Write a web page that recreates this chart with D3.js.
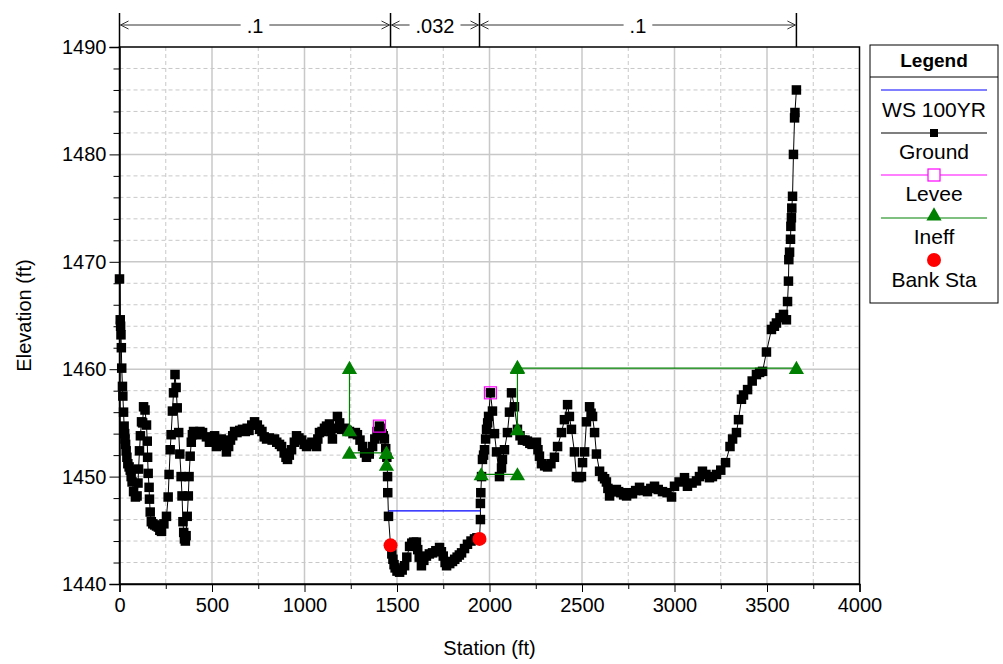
<!DOCTYPE html>
<html>
<head>
<meta charset="utf-8">
<script src="https://cdn.jsdelivr.net/npm/d3@7"></script>
<style>
  html, body { margin: 0; padding: 0; background: #fff; }
  svg { display: block; font-family: "Liberation Sans", Arial, sans-serif; }
</style>
</head>
<body>
<svg id="chart" width="1003" height="664"></svg>
<script>
// Cross-section ground profile: [station (ft), elevation (ft)]
const groundPoints = [
  [0,1468.4],[4,1464.6],[6,1464.0],[8,1463.2],[10,1462.0],[12,1460.1],[16,1458.4],[18,1457.5],
  [22,1456.0],[25,1454.7],[28,1454.0],[30,1453.5],[33,1453.0],[36,1452.4],[40,1451.8],[45,1451.2],
  [52,1450.9],[58,1450.6],[63,1450.0],[68,1449.5],[76,1448.6],[86,1448.1],
  [95,1448.2],[100,1449.4],[103,1450.7],[108,1452.4],[113,1453.8],[119,1455.1],[125,1455.0],[130,1456.5],[138,1456.2],
  [146,1454.8],[150,1453.3],[152,1451.8],[155,1450.3],[160,1449.0],[162,1447.9],[166,1446.7],[172,1445.8],
  [180,1445.6],[190,1445.5],[200,1445.4],[210,1445.3],[218,1445.0],[227,1444.9],[240,1445.6],[254,1446.3],[263,1448.1],[268,1450.2],[274,1452.5],
  [279,1453.9],[286,1456.1],[292,1457.8],[300,1459.5],[306,1458.3],[312,1456.4],[320,1454.1],[326,1452.1],
  [333,1450.0],[338,1448.2],[343,1445.8],[347,1444.8],[351,1444.2],[356,1444.0],[360,1444.5],[366,1446.3],[372,1448.2],
  [376,1450.0],[382,1451.9],[388,1453.2],[394,1453.9],[400,1454.2],[410,1454.0],[420,1453.9],[435,1454.2],[449,1454.1],[470,1453.7],
  [486,1453.2],[500,1453.5],[514,1453.8],[524,1452.8],[537,1453.2],[550,1453.5],[565,1452.9],[578,1452.3],[590,1452.8],[600,1453.4],[612,1453.8],[622,1454.2],
  [635,1454.1],[650,1454.3],[665,1454.4],[680,1454.2],[690,1454.5],[700,1454.3],[715,1454.8],[730,1455.1],[745,1454.8],[757,1454.4],[770,1454.2],
  [782,1453.7],[795,1453.5],[810,1453.6],[825,1453.4],[838,1453.5],[850,1453.2],[865,1453.0],[876,1452.8],
  [890,1452.2],[900,1451.8],[908,1451.6],[918,1452.0],[930,1452.5],[945,1453.2],[957,1453.8],[970,1453.6],[985,1453.4],[998,1453.0],[1011,1452.8],
  [1025,1453.0],[1040,1453.2],[1052,1453.0],[1065,1452.8],
  [1072,1453.5],[1081,1454.1],[1095,1454.2],[1108,1454.5],[1119,1454.7],[1135,1454.9],[1143,1454.2],[1151,1453.5],[1165,1454.5],[1178,1455.6],[1190,1455.0],[1200,1454.4],
  [1215,1454.5],[1230,1454.3],[1243,1454.2],[1262,1454.0],[1275,1454.1],[1286,1453.9],[1300,1453.4],[1314,1452.8],[1325,1452.2],[1335,1451.8],[1350,1452.1],[1368,1452.8],
  [1380,1453.5],[1392,1454.2],[1405,1454.7],
  [1413,1454.5],[1420,1454.0],[1426,1453.8],[1432,1453.5],[1439,1452.6],[1445,1451.8],[1449,1450.0],[1450,1448.5],[1454,1446.3],
  [1465,1443.6],[1472,1442.8],[1478,1442.3],[1484,1441.8],[1490,1441.5],[1500,1441.2],[1514,1441.1],[1528,1441.3],[1541,1441.7],[1553,1442.5],[1568,1443.5],
  [1580,1443.8],[1590,1443.9],[1605,1443.9],[1612,1443.2],[1620,1442.5],[1632,1441.7],[1645,1442.2],[1659,1442.6],[1675,1442.8],[1692,1442.9],
  [1710,1443.1],[1730,1443.4],[1740,1443.0],[1750,1442.6],[1760,1442.0],[1768,1441.7],[1785,1441.9],[1800,1442.1],[1812,1442.3],[1825,1442.5],[1837,1442.7],[1849,1442.9],
  [1865,1443.3],[1881,1443.7],[1900,1444.0],[1919,1444.2],[1932,1444.3],[1946,1444.2],[1951,1446.0],[1951,1447.5],[1953,1448.5],
  [1957,1450.0],[1962,1451.6],[1968,1452.0],[1973,1452.5],[1979,1453.5],[1984,1454.4],
  [1990,1455.0],[1995,1455.6],[2005,1457.8],[2016,1456.1],[2027,1454.0],[2038,1452.3],
  [2054,1450.0],[2065,1450.8],[2070,1451.6],[2081,1452.5],[2097,1454.1],[2108,1456.0],
  [2119,1457.8],[2135,1456.5],[2151,1454.4],[2165,1453.8],[2178,1453.4],[2192,1453.4],[2205,1453.3],[2218,1453.1],[2230,1453.0],
  [2242,1453.1],[2254,1453.2],[2262,1452.5],[2270,1451.9],[2281,1451.2],[2298,1451.0],[2314,1450.9],[2332,1451.2],[2351,1451.8],[2368,1452.8],
  [2389,1454.1],[2405,1455.3],[2422,1456.7],[2432,1455.6],[2443,1454.4],[2459,1452.3],[2470,1450.0],
  [2483,1449.9],[2497,1450.0],[2503,1451.3],[2514,1452.3],[2524,1455.1],[2541,1456.5],[2549,1455.9],[2557,1455.6],
  [2568,1454.1],[2578,1452.1],[2595,1450.5],[2611,1450.0],[2622,1449.8],[2632,1449.5],[2640,1448.9],[2649,1448.2],
  [2668,1448.6],[2686,1448.8],[2698,1448.6],[2710,1448.5],[2725,1448.3],[2741,1448.2],[2758,1448.5],[2773,1448.4],[2790,1448.7],[2811,1449.0],[2832,1448.7],[2854,1448.6],
  [2872,1448.9],[2892,1449.1],[2912,1448.8],[2935,1448.6],[2960,1448.5],[2984,1448.1],[3000,1449.1],[3025,1449.5],[3054,1449.9],[3070,1449.1],
  [3095,1449.4],[3119,1449.6],[3135,1450.0],[3151,1450.5],[3170,1450.2],[3189,1449.9],[3205,1450.0],[3227,1450.2],[3250,1450.6],[3276,1451.3],[3300,1452.8],[3314,1453.5],
  [3335,1454.1],[3346,1455.3],[3362,1457.2],[3373,1457.6],[3395,1458.1],[3420,1458.9],[3443,1459.5],
  [3460,1459.7],[3476,1459.8],[3497,1461.6],[3524,1463.7],[3540,1464.0],[3551,1464.3],[3570,1464.8],[3589,1465.1],[3605,1464.6],
  [3611,1466.3],[3616,1468.2],[3618,1470.2],[3622,1470.9],[3627,1472.1],[3629,1473.3],
  [3632,1474.1],[3634,1475.0],[3638,1476.1],[3643,1480.0],[3649,1483.4],[3651,1483.9],
  [3659,1486.0]
];

// Water surface (100-year) across the channel
const wsStations = [1456, 1952];
const wsElevation = 1446.8;

// Levee points
const leveePoints = [[1405,1454.7],[2005,1457.8]];

// Bank stations
const bankPoints = [[1465,1443.6],[1946,1444.2]];

// Ineffective flow area polylines
const ineffSegments = [
  [[1243,1460.1],[1243,1454.3]],
  [[1243,1452.2],[1443,1452.2]],
  [[1443,1452.2],[1443,1451.1]],
  [[1955,1450.2],[2151,1450.2]],
  [[2151,1454.4],[2151,1460.2]],
  [[2151,1460.1],[3659,1460.1]]
];

// Manning's n regions: breakpoints and values
const nBreaks = [0, 1465, 1946, 3659];
const nValues = [".1", ".032", ".1"];

// Axis ticks
const xTicks = [0, 500, 1000, 1500, 2000, 2500, 3000, 3500, 4000];
const yTicks = [1440, 1450, 1460, 1470, 1480, 1490];

// Legend entries
const legendLabels = ["WS 100YR", "Ground", "Levee", "Ineff", "Bank Sta"];

const svg = d3.select("#chart");
const plotL = 119.5, plotR = 859.5, plotT = 47, plotB = 584;

const x = d3.scaleLinear().domain([0, 4000]).range([plotL, plotR]);
const y = d3.scaleLinear().domain([1440, 1490]).range([plotB, plotT]);

const gridColor = "#c8c8c8";
const grid = svg.append("g");
const xMinorVals = d3.range(250, 4000, 500);
const yMinorVals = d3.range(1442, 1490, 2).filter(v => v % 10 !== 0);

// minor gridlines (dashed)
xMinorVals.forEach(v => {
  grid.append("line").attr("x1", x(v)).attr("x2", x(v)).attr("y1", plotT).attr("y2", plotB)
    .attr("stroke", gridColor).attr("stroke-dasharray", "4,3");
});
yMinorVals.forEach(v => {
  grid.append("line").attr("x1", plotL).attr("x2", plotR).attr("y1", y(v)).attr("y2", y(v))
    .attr("stroke", gridColor).attr("stroke-dasharray", "4,3");
});
// major gridlines (solid)
xTicks.slice(1, -1).forEach(v => {
  grid.append("line").attr("x1", x(v)).attr("x2", x(v)).attr("y1", plotT).attr("y2", plotB)
    .attr("stroke", gridColor).attr("stroke-width", 1.5);
});
yTicks.slice(1, -1).forEach(v => {
  grid.append("line").attr("x1", plotL).attr("x2", plotR).attr("y1", y(v)).attr("y2", y(v))
    .attr("stroke", gridColor).attr("stroke-width", 1.5);
});

// plot frame
svg.append("rect").attr("x", plotL).attr("y", plotT).attr("width", plotR - plotL).attr("height", plotB - plotT)
  .attr("fill", "none").attr("stroke", "#000").attr("stroke-width", 1.5);

// axes
const fontSize = 20;
const xAxis = d3.axisBottom(x).tickValues(xTicks).tickSize(8).tickPadding(6).tickFormat(d3.format("d"));
const gx = svg.append("g").attr("transform", `translate(0,${plotB})`).call(xAxis);
const xMinor = d3.axisBottom(x).tickValues(xMinorVals).tickSize(5).tickFormat("");
svg.append("g").attr("transform", `translate(0,${plotB})`).call(xMinor).select(".domain").remove();

const yAxis = d3.axisLeft(y).tickValues(yTicks).tickSize(10).tickPadding(3).tickFormat(d3.format("d"));
const gy = svg.append("g").attr("transform", `translate(${plotL},0)`).call(yAxis);
const yMinor = d3.axisLeft(y).tickValues(yMinorVals).tickSize(6).tickFormat("");
svg.append("g").attr("transform", `translate(${plotL},0)`).call(yMinor).select(".domain").remove();

[gx, gy].forEach(g => {
  g.selectAll("text").attr("font-size", fontSize).attr("font-family", "Liberation Sans, Arial, sans-serif").attr("fill", "#000");
  g.select(".domain").attr("stroke-width", 1.5);
});

svg.append("text").attr("x", (plotL + plotR) / 2).attr("y", 655).attr("text-anchor", "middle")
  .attr("font-size", fontSize).text("Station (ft)");
svg.append("text").attr("transform", `translate(31,${(plotT + plotB) / 2}) rotate(-90)`)
  .attr("text-anchor", "middle").attr("font-size", fontSize).text("Elevation (ft)");

// Manning's n annotation above the plot
const ann = svg.append("g");
const arrowY = 25;
nBreaks.forEach(s => {
  ann.append("line").attr("x1", x(s)).attr("x2", x(s)).attr("y1", 13).attr("y2", plotT)
    .attr("stroke", "#000").attr("stroke-width", 1.5);
});
nValues.forEach((v, i) => {
  const a = x(nBreaks[i]), b = x(nBreaks[i + 1]);
  const mid = (a + b) / 2;
  const label = ann.append("text").attr("x", mid).attr("y", arrowY + 8).attr("text-anchor", "middle")
    .attr("font-size", fontSize).text(v);
  const w = label.node().getComputedTextLength() / 2 + 6;
  ann.append("line").attr("x1", a + 1).attr("x2", mid - w).attr("y1", arrowY).attr("y2", arrowY).attr("stroke", "#333");
  ann.append("line").attr("x1", mid + w).attr("x2", b - 1).attr("y1", arrowY).attr("y2", arrowY).attr("stroke", "#333");
  ann.append("path").attr("d", `M${a + 9},${arrowY - 4}L${a + 1},${arrowY}L${a + 9},${arrowY + 4}`)
    .attr("fill", "none").attr("stroke", "#333");
  ann.append("path").attr("d", `M${b - 9},${arrowY - 4}L${b - 1},${arrowY}L${b - 9},${arrowY + 4}`)
    .attr("fill", "none").attr("stroke", "#333");
});

// ground profile
const line = d3.line().x(d => x(d[0])).y(d => y(d[1]));
svg.append("path").datum(groundPoints).attr("d", line).attr("fill", "none").attr("stroke", "#000").attr("stroke-width", 1);
const gs = 9.5;
svg.append("g").selectAll("rect").data(groundPoints).join("rect")
  .attr("x", d => x(d[0]) - gs / 2).attr("y", d => y(d[1]) - gs / 2)
  .attr("width", gs).attr("height", gs).attr("fill", "#000");

// water surface
svg.append("line").attr("x1", x(wsStations[0])).attr("x2", x(wsStations[1]))
  .attr("y1", y(wsElevation)).attr("y2", y(wsElevation)).attr("stroke", "#0000ff").attr("stroke-width", 1.2);

// ineffective flow areas
const tri = d3.symbol().type(d3.symbolTriangle).size(100);
const ineffG = svg.append("g");
ineffSegments.forEach(seg => {
  ineffG.append("path").datum(seg).attr("d", line).attr("fill", "none").attr("stroke", "#008000").attr("stroke-width", 1.2);
});
ineffSegments.forEach(seg => {
  ineffG.append("g").selectAll("path").data(seg).join("path")
    .attr("d", tri).attr("transform", d => `translate(${x(d[0])},${y(d[1]) + 1.5})`).attr("fill", "#008000");
});

// levees
const ls = 12;
svg.append("g").selectAll("rect").data(leveePoints).join("rect")
  .attr("x", d => x(d[0]) - ls / 2).attr("y", d => y(d[1]) - ls / 2)
  .attr("width", ls).attr("height", ls).attr("fill", "none").attr("stroke", "#ff00ff").attr("stroke-width", 1.2);

// bank stations
svg.append("g").selectAll("circle").data(bankPoints).join("circle")
  .attr("cx", d => x(d[0])).attr("cy", d => y(d[1])).attr("r", 7).attr("fill", "#ff0000");

// legend
const lg = svg.append("g");
const lx = 870, lw = 128, ly = 45, lh = 258;
lg.append("rect").attr("x", lx).attr("y", ly).attr("width", lw).attr("height", lh)
  .attr("fill", "#fff").attr("stroke", "#000").attr("stroke-width", 1);
lg.append("line").attr("x1", lx).attr("x2", lx + lw).attr("y1", 77).attr("y2", 77).attr("stroke", "#000");
lg.append("text").attr("x", lx + lw / 2).attr("y", 67).attr("text-anchor", "middle")
  .attr("font-size", 19).attr("font-weight", "bold").text("Legend");

const lineYs = [90, 133, 175, 218, 260];
const textYs = [117, 159, 201, 244, 287];
const lx1 = 881, lx2 = 987, lcx = (lx1 + lx2) / 2;
const colors = ["#0000ff", "#000", "#ff00ff", "#008000", null];
legendLabels.forEach((lab, i) => {
  if (colors[i]) {
    lg.append("line").attr("x1", lx1).attr("x2", lx2).attr("y1", lineYs[i]).attr("y2", lineYs[i])
      .attr("stroke", colors[i]).attr("stroke-width", 1.2);
  }
  lg.append("text").attr("x", lcx).attr("y", textYs[i]).attr("text-anchor", "middle")
    .attr("font-size", 21).text(lab);
});
lg.append("rect").attr("x", lcx - 4).attr("y", lineYs[1] - 4).attr("width", 8).attr("height", 8).attr("fill", "#000");
lg.append("rect").attr("x", lcx - 6).attr("y", lineYs[2] - 6).attr("width", 12).attr("height", 12)
  .attr("fill", "#fff").attr("stroke", "#ff00ff").attr("stroke-width", 1.2);
lg.append("path").attr("d", tri).attr("transform", `translate(${lcx},${lineYs[3] - 2})`).attr("fill", "#008000");
lg.append("circle").attr("cx", lcx).attr("cy", lineYs[4]).attr("r", 7).attr("fill", "#ff0000");
</script>
</body>
</html>
